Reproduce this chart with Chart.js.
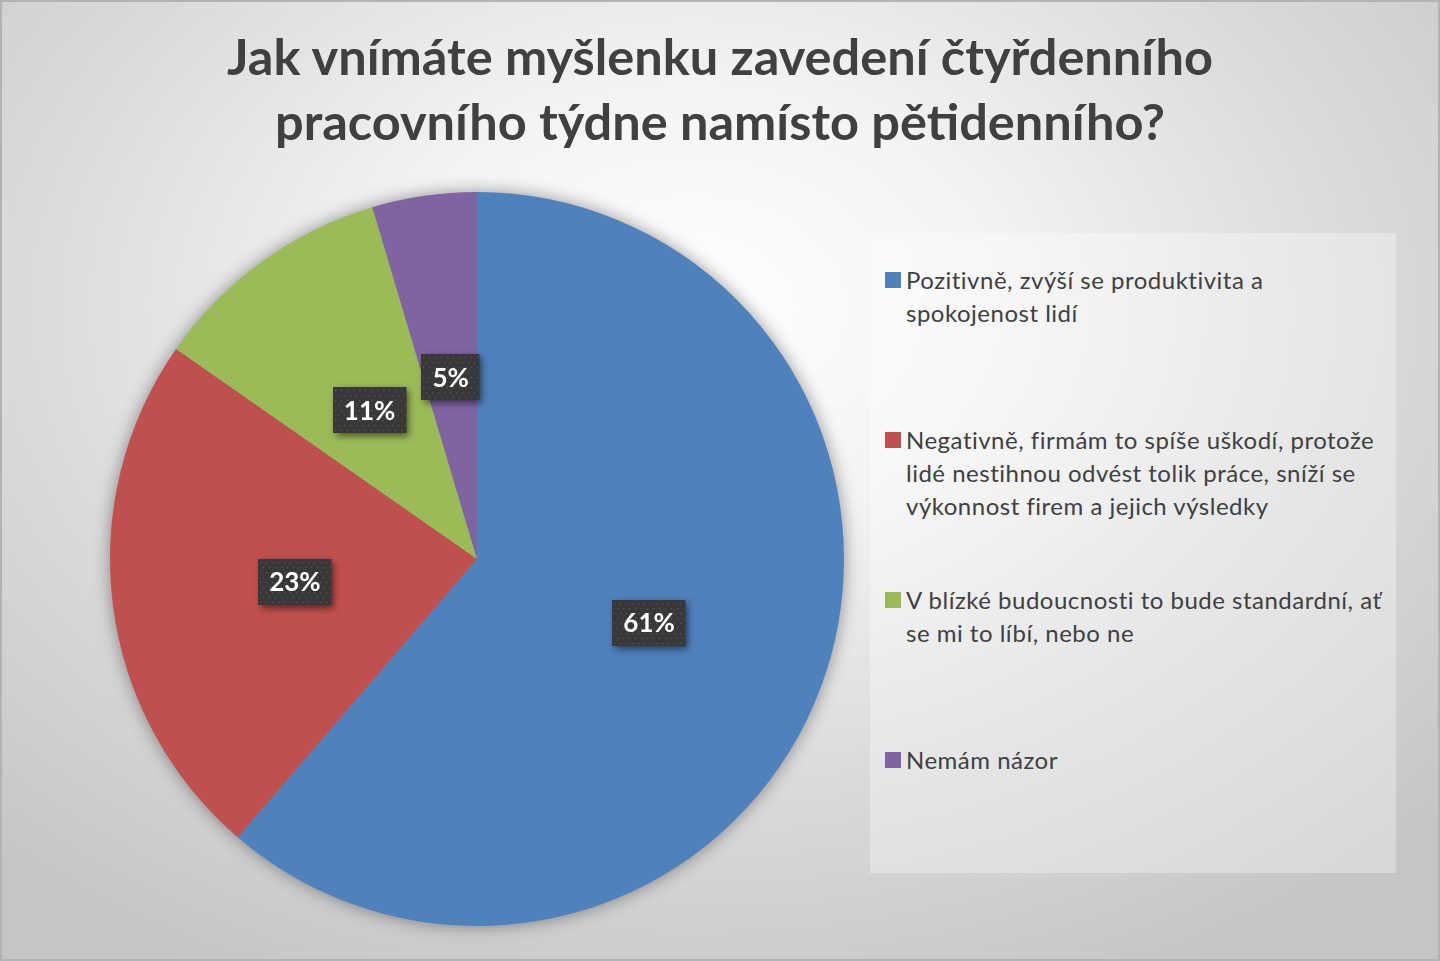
<!DOCTYPE html>
<html>
<head>
<meta charset="utf-8">
<script src="https://cdn.jsdelivr.net/npm/chart.js@4.4.0/dist/chart.umd.min.js"></script>
<style>
  html, body { margin:0; padding:0; }
  body {
    width:1440px; height:961px; overflow:hidden; position:relative;
    background: radial-gradient(ellipse 72% 78% at 48% 32%, #ffffff 0%, #f3f3f3 30%, #dadada 65%, #c5c5c5 100%);
    font-family: Lato, "Open Sans", sans-serif;
  }
  #frame { position:absolute; left:0; top:0; width:1440px; height:961px; box-sizing:border-box;
    border:2px solid #b3b3b3; pointer-events:none; }
  #title {
    position:absolute; left:0; top:23px; width:1440px; text-align:center;
    font-family: Lato, sans-serif; font-weight:700; font-size:50.5px; line-height:65px; color:#404040;
  }
  #legendBox {
    position:absolute; left:870px; top:233px; width:526px; height:640px;
    background: rgba(255,255,255,0.32);
  }
  .item { position:absolute; left:885px; }
  .sq { position:absolute; left:0; width:16px; height:16px; }
  .txt { position:absolute; left:21px; top:-1px; white-space:nowrap; font-size:24px; letter-spacing:0.5px; line-height:33px; color:#404040; }
  #pieWrap { position:absolute; left:90px; top:172px; width:774px; height:774px; }
</style>
</head>
<body>
<div id="title"></div>
<div id="legendBox"></div>
<div id="legend"></div>
<div id="pieWrap"><canvas id="c"></canvas></div>
<div id="frame"></div>
<script>
// ---- data ----
const titleLines = ["Jak vnímáte myšlenku zavedení čtyřdenního", "pracovního týdne namísto pětidenního?"];
const categories = [
  ["Pozitivně, zvýší se produktivita a", "spokojenost lidí"],
  ["Negativně, firmám to spíše uškodí, protože", "lidé nestihnou odvést tolik práce, sníží se", "výkonnost firem a jejich výsledky"],
  ["V blízké budoucnosti to bude standardní, ať", "se mi to líbí, nebo ne"],
  ["Nemám názor"]
];
const values = [61.3, 23.4, 10.7, 4.6];
const colors = ["#4F81BD", "#C0504D", "#9BBB59", "#8064A2"];

document.getElementById('title').innerHTML = titleLines.join('<br>');

// legend
const leg = document.getElementById('legend');
categories.forEach((lines, i) => {
  const d = document.createElement('div');
  d.className = 'item';
  const lineCenter = 280 + 160 * i;
  d.style.top = (lineCenter - 16.5) + 'px';
  d.innerHTML = '<div class="sq" style="top:8.5px;background:' + colors[i] + '"></div>' +
    '<div class="txt">' + lines.join('<br>') + '</div>';
  leg.appendChild(d);
});

const shadowPlugin = {
  id: 'pieShadow',
  beforeDatasetsDraw(chart) {
    const meta = chart.getDatasetMeta(0);
    const a = meta.data[0];
    if (!a) return;
    const ctx = chart.ctx;
    ctx.save();
    ctx.shadowColor = 'rgba(0,0,0,0.45)';
    ctx.shadowBlur = 18;
    ctx.fillStyle = '#888';
    ctx.beginPath();
    ctx.arc(a.x, a.y, a.outerRadius - 1, 0, Math.PI * 2);
    ctx.fill();
    ctx.restore();
  }
};

const labelPlugin = {
  id: 'boxLabels',
  afterDatasetsDraw(chart) {
    const ctx = chart.ctx;
    const meta = chart.getDatasetMeta(0);
    const ds = chart.data.datasets[0].data;
    const total = ds.reduce((s, v) => s + v, 0);
    meta.data.forEach((arc, i) => {
      const p = arc.getCenterPoint();
      const txt = Math.round(ds[i] / total * 100) + '%';
      ctx.save();
      ctx.font = '700 26px Lato, sans-serif';
      const tw = ctx.measureText(txt).width;
      const w = tw + 22, h = 46;
      const x = Math.round(p.x - w / 2), y = Math.round(p.y - h / 2);
      ctx.shadowColor = 'rgba(0,0,0,0.55)';
      ctx.shadowBlur = 7;
      ctx.shadowOffsetX = 3;
      ctx.shadowOffsetY = 3;
      ctx.fillStyle = '#383838';
      ctx.fillRect(x, y, w, h);
      ctx.restore();
      ctx.save();
      ctx.beginPath();
      ctx.rect(x, y, w, h);
      ctx.clip();
      ctx.fillStyle = 'rgba(120,120,120,0.55)';
      for (let yy = y + 3, r = 0; yy < y + h; yy += 5, r++) {
        for (let xx = x + 2 + (r % 2) * 3; xx < x + w; xx += 6) {
          ctx.fillRect(xx, yy, 1.2, 1.2);
        }
      }
      ctx.restore();
      ctx.save();
      ctx.font = '700 26px Lato, sans-serif';
      ctx.fillStyle = '#ffffff';
      ctx.textAlign = 'center';
      ctx.textBaseline = 'middle';
      ctx.fillText(txt, p.x, p.y + 1);
      ctx.restore();
    });
  }
};

new Chart(document.getElementById('c'), {
  type: 'pie',
  data: {
    labels: categories,
    datasets: [{
      data: values,
      backgroundColor: colors,
      borderWidth: 0
    }]
  },
  options: {
    responsive: true,
    maintainAspectRatio: false,
    animation: false,
    layout: { padding: 20 },
    plugins: {
      legend: { display: false },
      title: { display: false },
      tooltip: { enabled: false }
    }
  },
  plugins: [shadowPlugin, labelPlugin]
});
</script>
</body>
</html>
